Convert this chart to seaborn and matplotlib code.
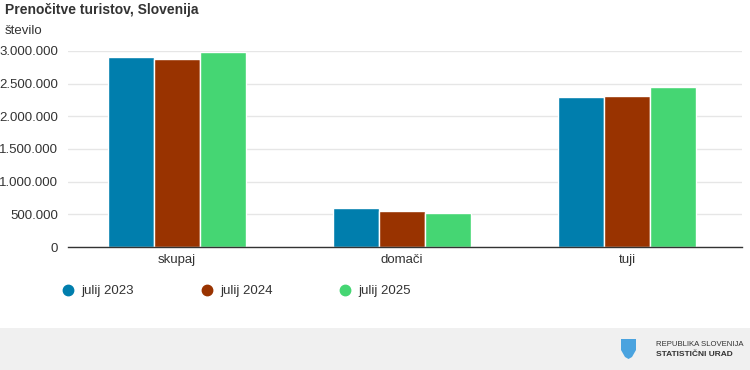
import pandas as pd
import numpy as np
import seaborn as sns
import matplotlib.pyplot as plt
from matplotlib.ticker import FuncFormatter
from matplotlib.lines import Line2D
from matplotlib.patches import Rectangle, Polygon

categories = ['skupaj', 'domači', 'tuji']
periods = ['julij 2023', 'julij 2024', 'julij 2025']
v2023 = [2904000, 592000, 2291000]
v2024 = [2877000, 546000, 2311000]
v2025 = [2990000, 516000, 2454000]
colors = ['#007EAD', '#993300', '#45D673']

df = pd.DataFrame({
    'kategorija': categories * 3,
    'obdobje': [periods[0]] * 3 + [periods[1]] * 3 + [periods[2]] * 3,
    'vrednost': v2023 + v2024 + v2025,
})

sns.set_theme(style='white')
plt.rcParams['font.family'] = ['Liberation Sans', 'DejaVu Sans']
txt = '#333333'

fig = plt.figure(figsize=(7.5, 3.7), dpi=100)
ax = fig.add_axes([68 / 750, 1 - 247 / 370, (742 - 68) / 750, (247 - 51) / 370])

sns.barplot(data=df, x='kategorija', y='vrednost', hue='obdobje', order=categories,
            hue_order=periods, palette=colors, width=0.61, edgecolor='white',
            linewidth=1, saturation=1, legend=False, ax=ax)

ax.set_xlim(-0.484, 2.511)
ax.set_ylim(0, 3000000)
ax.set_yticks(np.arange(0, 3000001, 500000))
ax.yaxis.set_major_formatter(FuncFormatter(lambda v, p: f'{int(v):,}'.replace(',', '.')))
ax.grid(axis='y', color='#e6e6e6', linewidth=1)
ax.set_axisbelow(True)
for s in ['top', 'right', 'left']:
    ax.spines[s].set_visible(False)
ax.spines['bottom'].set_color('#333333')
ax.spines['bottom'].set_linewidth(1)
ax.tick_params(axis='both', length=0, labelsize=9.5, colors=txt)
ax.tick_params(axis='y', pad=7)
ax.tick_params(axis='x', pad=5)
ax.set_xlabel('')
ax.set_ylabel('')

fig.text(5 / 750, 1 - 10 / 370, 'Prenočitve turistov, Slovenija', fontsize=10,
         fontweight='bold', color=txt, va='center', ha='left')
fig.text(5 / 750, 1 - 31 / 370, 'število', fontsize=9.5, color=txt, va='center', ha='left')

handles = [Line2D([0], [0], marker='o', linestyle='', markersize=7.5,
                  markerfacecolor=c, markeredgecolor=c) for c in colors]
fig.legend(handles, periods, loc='center left', bbox_to_anchor=(50 / 750, 1 - 291 / 370),
           ncol=3, frameon=False, fontsize=9.5, handlelength=1.0, handletextpad=0.5,
           columnspacing=5.0, labelcolor=txt)

# footer
fig.patches.append(Rectangle((0, 0), 1, 42 / 370, transform=fig.transFigure,
                             facecolor='#f0f0f0', edgecolor='none', zorder=0))
shield = [(621, 339), (636, 339), (636, 350), (632, 357), (628.5, 359), (625, 357), (621, 350)]
fig.patches.append(Polygon([(x / 750, 1 - y / 370) for x, y in shield], closed=True,
                           transform=fig.transFigure, facecolor='#4aa3df',
                           edgecolor='none', zorder=1))
fig.text(656 / 750, 1 - 345 / 370, 'REPUBLIKA SLOVENIJA', fontsize=5.6, color=txt,
         va='center', ha='left')
fig.text(656 / 750, 1 - 355 / 370, 'STATISTIČNI URAD', fontsize=6, color=txt,
         fontweight='bold', va='center', ha='left')

fig.savefig('out.png', dpi=100)
